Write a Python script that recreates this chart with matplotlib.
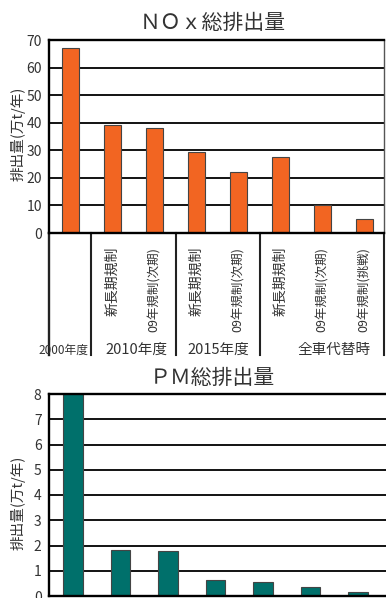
import matplotlib
matplotlib.use("Agg")
import matplotlib.pyplot as plt
import matplotlib.transforms as mtransforms

plt.rcParams["font.family"] = ["Noto Sans CJK JP", "DejaVu Sans"]

W, H = 386, 598

# NOx total emissions (万t/年)
nox_values = [67, 39, 38, 29.5, 22, 27.5, 10, 5]
nox_sub_labels = ["", "新長期規制", "09年規制(次期)", "新長期規制", "09年規制(次期)",
                  "新長期規制", "09年規制(次期)", "09年規制(挑戦)"]
group_labels = ["2000年度", "2010年度", "2015年度", "全車代替時"]
group_label_x = [-0.17, 1.58, 3.53, 6.27]
group_bounds = [0.5, 2.5, 4.5]

# PM total emissions (万t/年)
pm_values = [8, 1.82, 1.78, 0.62, 0.54, 0.37, 0.17]

ORANGE = "#F26522"
TEAL = "#00706B"
EDGE = "#444444"
TXT = "#333333"


def frac(x0, y0, x1, y1):
    # pixel box (top-left origin) -> figure fraction rect
    return [x0 / W, 1 - y1 / H, (x1 - x0) / W, (y1 - y0) / H]


def style_axes(ax):
    ax.set_axisbelow(True)
    ax.yaxis.grid(True, color="black", linewidth=1.3)
    ax.tick_params(axis="y", length=0, pad=5, labelsize=10, labelcolor=TXT)
    ax.tick_params(axis="x", length=0, labelbottom=False)
    for s in ("left", "top", "bottom"):
        ax.spines[s].set_linewidth(1.7)
        ax.spines[s].set_color("black")


fig = plt.figure(figsize=(W / 100, H / 100), dpi=100)

# ---- NOx ----
ax1 = fig.add_axes(frac(49, 40, 384, 233))
x1 = list(range(len(nox_values)))
ax1.bar(x1, nox_values, width=0.42, color=ORANGE, edgecolor=EDGE, linewidth=0.8)
ax1.set_xlim(-0.51, 7.46)
ax1.set_ylim(0, 70)
ax1.set_yticks(range(0, 71, 10))
style_axes(ax1)
ax1.spines["right"].set_color("#555555")
ax1.spines["right"].set_linewidth(1.0)

# category table below the NOx axis
tr = mtransforms.blended_transform_factory(ax1.transData, ax1.transAxes)
depth = -(355 - 233) / (233 - 40)
for xb in group_bounds + [7.46]:
    ax1.plot([xb, xb], [0, depth], transform=tr, color="#222222",
             linewidth=1.5, clip_on=False)
ax1.plot([-0.51, -0.51], [0, depth], transform=tr, color="#222222",
         linewidth=1.7, clip_on=False)

top_y = -(247 - 233) / (233 - 40)
for xi, lab in zip(x1, nox_sub_labels):
    if lab:
        size = 10 if lab.startswith("新") else 9.0
        ax1.text(xi, top_y, lab, transform=tr, rotation=90, ha="center",
                 va="top", fontsize=size, color=TXT)

grp_y = -(350 - 233) / (233 - 40)
for i, (gx, lab) in enumerate(zip(group_label_x, group_labels)):
    ax1.text(gx, grp_y, lab, transform=tr, ha="center", va="center",
             fontsize=8.5 if i == 0 else 10.5, color=TXT)

fig.text(213 / W, 1 - 23 / H, "ＮＯｘ総排出量", ha="center", va="center",
         fontsize=15, color=TXT)
fig.text(18 / W, 1 - 134 / H, "排出量(万t/年)", rotation=90, ha="center",
         va="center", fontsize=10.5, color=TXT)

# ---- PM ----
ax2 = fig.add_axes(frac(48.5, 394, 453, 596))
x2 = list(range(len(pm_values)))
ax2.bar(x2, pm_values, width=0.42, color=TEAL, edgecolor=EDGE, linewidth=0.8)
ax2.set_xlim(-0.516, 8.0)
ax2.set_ylim(0, 8)
ax2.set_yticks(range(0, 9))
style_axes(ax2)
ax2.spines["right"].set_visible(False)

fig.text(212 / W, 1 - 378 / H, "ＰＭ総排出量", ha="center", va="center",
         fontsize=15, color=TXT)
fig.text(18 / W, 1 - 503 / H, "排出量(万t/年)", rotation=90, ha="center",
         va="center", fontsize=10.5, color=TXT)

fig.savefig("out.png", dpi=100)
